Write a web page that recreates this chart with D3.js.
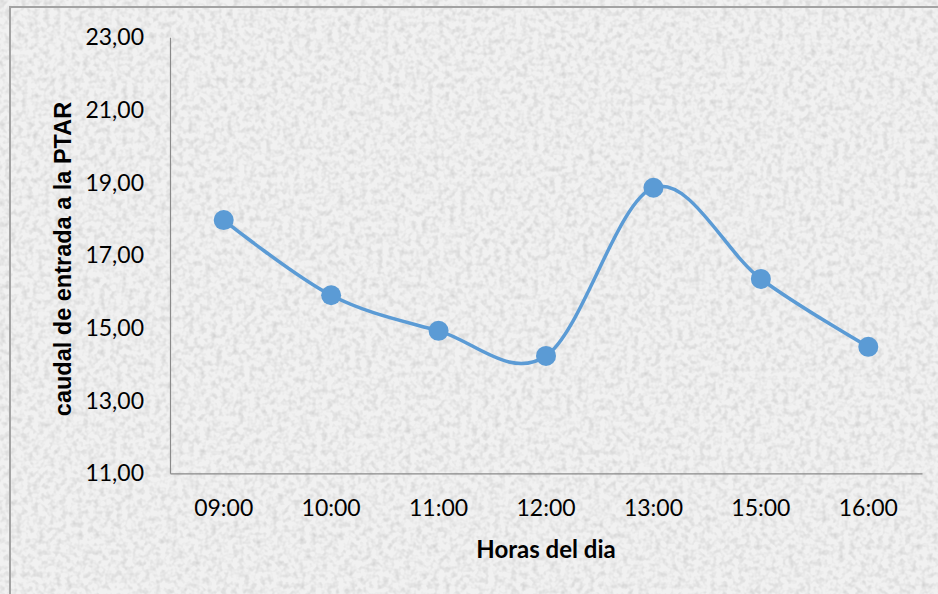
<!DOCTYPE html>
<html>
<head>
<meta charset="utf-8">
<script src="https://cdn.jsdelivr.net/npm/d3@7"></script>
<style>
  html, body { margin: 0; padding: 0; background: #ececec; }
  svg { display: block; }
</style>
</head>
<body>
<div id="app"></div>
<script>
// data
const horas = ["09:00", "10:00", "11:00", "12:00", "13:00", "15:00", "16:00"];
const caudal = [17.97, 15.90, 14.92, 14.23, 18.86, 16.35, 14.48];
const yTicks = [11, 13, 15, 17, 19, 21, 23];
const yTitle = "caudal de entrada a la PTAR";
const xTitle = "Horas del dia";

const width = 938;
const height = 594;

const svg = d3.select("#app")
  .append("svg")
  .attr("width", width)
  .attr("height", height);

// paper-like grey texture
const defs = svg.append("defs");
const filt = defs.append("filter")
  .attr("id", "paper")
  .attr("x", 0).attr("y", 0).attr("width", "100%").attr("height", "100%");
filt.append("feTurbulence")
  .attr("type", "fractalNoise")
  .attr("baseFrequency", 0.18)
  .attr("numOctaves", 2)
  .attr("seed", 4)
  .attr("result", "noise");
filt.append("feColorMatrix")
  .attr("in", "noise")
  .attr("type", "matrix")
  .attr("values", "0 0 0 0 0  0 0 0 0 0  0 0 0 0 0  0 0 0 -1.6 0.95")
  .attr("result", "grain");
filt.append("feComposite")
  .attr("in", "grain").attr("in2", "SourceGraphic").attr("operator", "in");

svg.append("rect")
  .attr("width", width).attr("height", height)
  .attr("fill", "#f1f1f1");
svg.append("rect")
  .attr("width", width).attr("height", height)
  .attr("fill", "#000")
  .attr("opacity", 0.15)
  .attr("filter", "url(#paper)");

// outer frame
svg.append("rect")
  .attr("x", 10).attr("y", 7)
  .attr("width", width + 10).attr("height", height + 10)
  .attr("fill", "none")
  .attr("stroke", "#a3a3a3")
  .attr("stroke-width", 2);

const x = d3.scaleBand()
  .domain(horas)
  .range([170, 922]);

const y = d3.scaleLinear()
  .domain([11, 23])
  .range([473.3, 37.3]);

const fmt = (d) => d.toFixed(2).replace(".", ",");

// axes
const gy = svg.append("g")
  .attr("transform", `translate(${x.range()[0]},0)`)
  .call(d3.axisLeft(y).tickValues(yTicks).tickFormat(fmt).tickSize(0).tickPadding(26));

const gx = svg.append("g")
  .attr("transform", `translate(0,${y(11)})`)
  .call(d3.axisBottom(x).tickSize(0).tickPadding(26));

[gy, gx].forEach((g) => {
  g.select(".domain").attr("stroke", "#8a8a8a").attr("stroke-width", 1.2);
  g.selectAll("text")
    .attr("fill", "#000")
    .style("font-family", "Lato, 'Open Sans', sans-serif")
    .style("font-size", "23px");
});

// line
const line = d3.line()
  .x((d, i) => x(horas[i]) + x.bandwidth() / 2)
  .y((d) => y(d))
  .curve(d3.curveCardinal.tension(0));

svg.append("path")
  .datum(caudal)
  .attr("fill", "none")
  .attr("stroke", "#5b9bd5")
  .attr("stroke-width", 3.5)
  .attr("d", line);

svg.selectAll("circle.pt")
  .data(caudal)
  .join("circle")
  .attr("class", "pt")
  .attr("cx", (d, i) => x(horas[i]) + x.bandwidth() / 2)
  .attr("cy", (d) => y(d))
  .attr("r", 10)
  .attr("fill", "#5b9bd5");

// axis titles
svg.append("text")
  .attr("transform", `translate(71,${259}) rotate(-90)`)
  .attr("text-anchor", "middle")
  .style("font-family", "'Liberation Sans', Arial, sans-serif")
  .style("font-weight", "bold")
  .style("font-size", "23.5px")
  .text(yTitle);

svg.append("text")
  .attr("x", 546)
  .attr("y", 558)
  .attr("text-anchor", "middle")
  .style("font-family", "Lato, 'Open Sans', sans-serif")
  .style("font-weight", "bold")
  .style("font-size", "24px")
  .text(xTitle);
</script>
</body>
</html>
